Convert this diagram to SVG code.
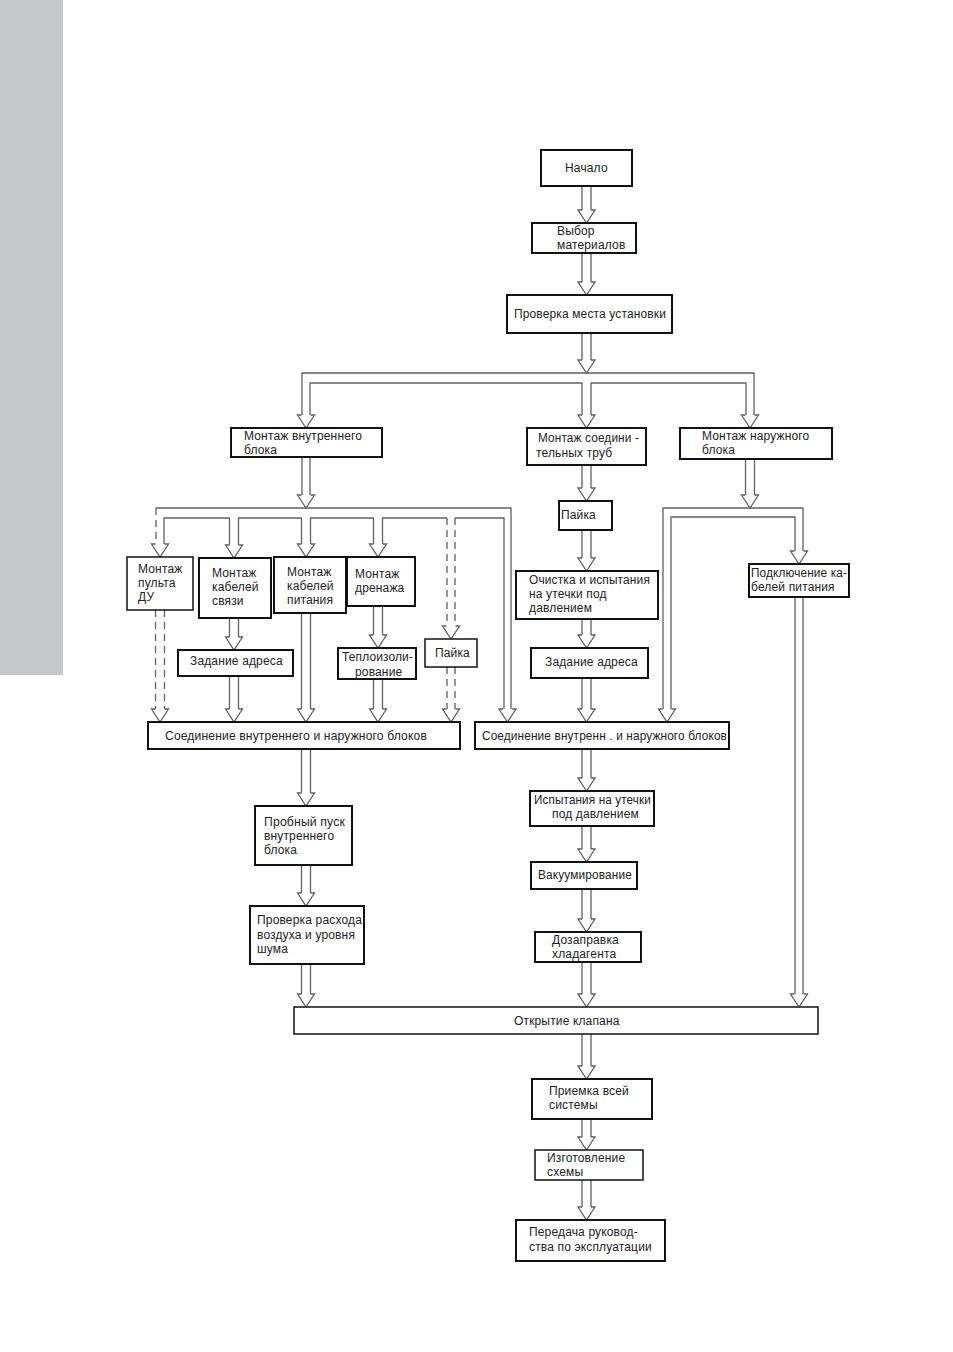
<svg xmlns="http://www.w3.org/2000/svg" xmlns:xlink="http://www.w3.org/1999/xlink" width="953" height="1352" viewBox="0 0 953 1352">
<style>
.box{fill:#fff;stroke:#111;stroke-width:2}
.thin{stroke-width:1.5}
.t{font-family:"Liberation Sans",Arial,sans-serif;font-size:12px;letter-spacing:0.15px;fill:#222}
.ln{fill:none;stroke:#606060;stroke-width:1.3}
.dash{stroke-dasharray:7 5}
.ah{fill:#fff;stroke:#606060;stroke-width:1.3}
</style>
<defs>
<path id="ah" class="ah" d="M-4.5,-13 H-8.5 L0,0 L8.5,-13 H4.5"/>
</defs>
<rect x="0" y="0" width="63" height="675" fill="#c6c7c9"/>

<g id="connectors">
<path class="ln" d="M582,186V210M591,186V210"/><use href="#ah" x="586.5" y="223"/>
<path class="ln" d="M582,253V282M591,253V282"/><use href="#ah" x="586.5" y="295"/>
<path class="ln" d="M582,333V360M591,333V360"/><use href="#ah" x="586.5" y="373"/>
<path class="ln" d="M302,415V373H754V415"/>
<path class="ln" d="M310,415V383H582V415"/>
<path class="ln" d="M591,415V383H746V415"/>
<use href="#ah" x="306" y="428"/><use href="#ah" x="586.5" y="428"/><use href="#ah" x="750" y="428"/>
<path class="ln" d="M582,465V488M591,465V488"/><use href="#ah" x="586.5" y="501"/>
<path class="ln" d="M582,530V558M591,530V558"/><use href="#ah" x="586.5" y="571"/>
<path class="ln" d="M582,619V635M591,619V635"/><use href="#ah" x="586.5" y="648"/>
<path class="ln" d="M582,678V709M591,678V709"/><use href="#ah" x="586.5" y="722"/>
<path class="ln" d="M302,457V495M310,457V495"/><use href="#ah" x="306" y="508"/>
<path class="ln" d="M156,508H511V709"/>
<path class="ln dash" d="M156,508V544"/>
<path class="ln" d="M164,544V518H229.5V545"/>
<path class="ln" d="M238.5,545V518H301.5V544"/>
<path class="ln" d="M310.5,544V518H373.5V544"/>
<path class="ln" d="M382.5,544V518H447"/>
<path class="ln" d="M455,518H504V709"/>
<path class="ln dash" d="M447,518V626M455,518V626"/>
<use href="#ah" x="160" y="557"/><use href="#ah" x="234" y="558"/><use href="#ah" x="306" y="557"/><use href="#ah" x="378" y="557"/><use href="#ah" x="451" y="639"/><use href="#ah" x="507.5" y="722"/>
<path class="ln dash" d="M155.5,610V709M164.5,610V709"/><use href="#ah" x="160" y="722"/>
<path class="ln" d="M229.5,618V637M238.5,618V637"/><use href="#ah" x="234" y="650"/>
<path class="ln" d="M229.5,676V709M238.5,676V709"/><use href="#ah" x="234" y="722"/>
<path class="ln" d="M301.5,613V709M310.5,613V709"/><use href="#ah" x="306" y="722"/>
<path class="ln" d="M373.5,606V635M382.5,606V635"/><use href="#ah" x="378" y="648"/>
<path class="ln" d="M373.5,679V709M382.5,679V709"/><use href="#ah" x="378" y="722"/>
<path class="ln dash" d="M447,667V709M455,667V709"/><use href="#ah" x="451" y="722"/>
<path class="ln" d="M745.5,459V495M754.5,459V495"/><use href="#ah" x="750" y="508"/>
<path class="ln" d="M663,709V508H803V551"/>
<path class="ln" d="M671,709V517H795V551"/>
<use href="#ah" x="667" y="722"/><use href="#ah" x="799" y="564"/>
<path class="ln" d="M795,597V994M803,597V994"/><use href="#ah" x="799" y="1007"/>
<path class="ln" d="M301.5,749V793M310.5,749V793"/><use href="#ah" x="306" y="806"/>
<path class="ln" d="M301.5,865V893M310.5,865V893"/><use href="#ah" x="306" y="906"/>
<path class="ln" d="M301.5,964V994M310.5,964V994"/><use href="#ah" x="306" y="1007"/>
<path class="ln" d="M582,749V778M591,749V778"/><use href="#ah" x="586.5" y="791"/>
<path class="ln" d="M582,826V849M591,826V849"/><use href="#ah" x="586.5" y="862"/>
<path class="ln" d="M582,889V919M591,889V919"/><use href="#ah" x="586.5" y="932"/>
<path class="ln" d="M582,962V994M591,962V994"/><use href="#ah" x="586.5" y="1007"/>
<path class="ln" d="M582,1034V1066M591,1034V1066"/><use href="#ah" x="586.5" y="1079"/>
<path class="ln" d="M582,1119V1137M591,1119V1137"/><use href="#ah" x="586.5" y="1150"/>
<path class="ln" d="M582,1180V1207M591,1180V1207"/><use href="#ah" x="586.5" y="1220"/>
</g>

<g id="n-start"><rect class="box" x="541" y="150" width="91" height="36"/><text class="t" x="565" y="172">Начало</text></g>
<g id="n-materials"><rect class="box" x="532" y="223" width="104" height="30"/><text class="t" x="557" y="235">Выбор</text><text class="t" x="557" y="249">материалов</text></g>
<g id="n-site"><rect class="box" x="507" y="295" width="165" height="38"/><text class="t" x="514" y="318" textLength="152" lengthAdjust="spacingAndGlyphs">Проверка места установки</text></g>
<g id="n-indoor"><rect class="box" x="231" y="428" width="151" height="29"/><text class="t" x="244" y="440">Монтаж внутреннего</text><text class="t" x="244" y="454">блока</text></g>
<g id="n-pipes"><rect class="box" x="527" y="428" width="119" height="37"/><text class="t" x="538" y="442" textLength="101" lengthAdjust="spacingAndGlyphs">Монтаж соедини -</text><text class="t" x="536" y="457">тельных  труб</text></g>
<g id="n-outdoor"><rect class="box" x="680" y="428" width="152" height="31"/><text class="t" x="702" y="440">Монтаж наружного</text><text class="t" x="702" y="454">блока</text></g>
<g id="n-solder-mid"><rect class="box" x="559" y="501" width="53" height="29"/><text class="t" x="561" y="519">Пайка</text></g>
<g id="n-remote"><rect class="box thin" x="127" y="557" width="66" height="53"/><text class="t" x="138" y="573">Монтаж</text><text class="t" x="138" y="587">пульта</text><text class="t" x="138" y="601">ДУ</text></g>
<g id="n-comm"><rect class="box" x="199" y="558" width="72" height="60"/><text class="t" x="212" y="577">Монтаж</text><text class="t" x="212" y="591">кабелей</text><text class="t" x="212" y="605">связи</text></g>
<g id="n-power"><rect class="box" x="274" y="557" width="72" height="56"/><text class="t" x="287" y="576">Монтаж</text><text class="t" x="287" y="590">кабелей</text><text class="t" x="287" y="604">питания</text></g>
<g id="n-drain"><rect class="box" x="347" y="557" width="68" height="49"/><text class="t" x="355" y="578">Монтаж</text><text class="t" x="355" y="592">дренажа</text></g>
<g id="n-addr-left"><rect class="box" x="178" y="650" width="115" height="26"/><text class="t" x="190" y="665">Задание  адреса</text></g>
<g id="n-insul"><rect class="box" x="338" y="648" width="78" height="31"/><text class="t" x="342" y="661" textLength="71" lengthAdjust="spacingAndGlyphs">Теплоизоли-</text><text class="t" x="355" y="676">рование</text></g>
<g id="n-solder-left"><rect class="box thin" x="425" y="639" width="52" height="28"/><text class="t" x="435" y="657">Пайка</text></g>
<g id="n-conn-left"><rect class="box" x="148" y="722" width="312" height="27"/><text class="t" x="165" y="740" textLength="262" lengthAdjust="spacingAndGlyphs">Соединение  внутреннего  и  наружного  блоков</text></g>
<g id="n-conn-right"><rect class="box" x="475" y="722" width="254" height="27"/><text class="t" x="482" y="740" textLength="245" lengthAdjust="spacingAndGlyphs">Соединение  внутренн . и наружного блоков</text></g>
<g id="n-clean"><rect class="box" x="516" y="571" width="142" height="48"/><text class="t" x="529" y="584" textLength="121" lengthAdjust="spacingAndGlyphs">Очистка и испытания</text><text class="t" x="529" y="598">на утечки под</text><text class="t" x="529" y="612">давлением</text></g>
<g id="n-addr-mid"><rect class="box" x="531" y="648" width="117" height="30"/><text class="t" x="545" y="666">Задание  адреса</text></g>
<g id="n-powerconn"><rect class="box" x="749" y="564" width="100" height="33"/><text class="t" x="751" y="577" textLength="96" lengthAdjust="spacingAndGlyphs">Подключение ка-</text><text class="t" x="751" y="591">белей  питания</text></g>
<g id="n-testrun"><rect class="box" x="255" y="806" width="97" height="59"/><text class="t" x="264" y="826" textLength="81" lengthAdjust="spacingAndGlyphs">Пробный пуск</text><text class="t" x="264" y="840">внутреннего</text><text class="t" x="264" y="854">блока</text></g>
<g id="n-airflow"><rect class="box" x="250" y="906" width="114" height="58"/><text class="t" x="257" y="924" textLength="105" lengthAdjust="spacingAndGlyphs">Проверка расхода</text><text class="t" x="257" y="939">воздуха  и уровня</text><text class="t" x="257" y="953">шума</text></g>
<g id="n-leak"><rect class="box" x="530" y="791" width="124" height="35"/><text class="t" x="534" y="804" textLength="117" lengthAdjust="spacingAndGlyphs">Испытания на утечки</text><text class="t" x="552" y="818">под давлением</text></g>
<g id="n-vacuum"><rect class="box" x="531" y="862" width="106" height="27"/><text class="t" x="538" y="879" textLength="94" lengthAdjust="spacingAndGlyphs">Вакуумирование</text></g>
<g id="n-charge"><rect class="box" x="535" y="932" width="106" height="30"/><text class="t" x="552" y="944">Дозаправка</text><text class="t" x="552" y="958">хладагента</text></g>
<g id="n-valve"><rect class="box thin" x="294" y="1007" width="524" height="27"/><text class="t" x="514" y="1025">Открытие  клапана</text></g>
<g id="n-accept"><rect class="box" x="532" y="1079" width="120" height="40"/><text class="t" x="549" y="1095">Приемка всей</text><text class="t" x="549" y="1109">системы</text></g>
<g id="n-scheme"><rect class="box thin" x="535" y="1150" width="108" height="30"/><text class="t" x="547" y="1162">Изготовление</text><text class="t" x="547" y="1176">схемы</text></g>
<g id="n-manual"><rect class="box" x="516" y="1220" width="149" height="41"/><text class="t" x="529" y="1236">Передача  руковод-</text><text class="t" x="529" y="1251">ства по эксплуатации</text></g>
</svg>
